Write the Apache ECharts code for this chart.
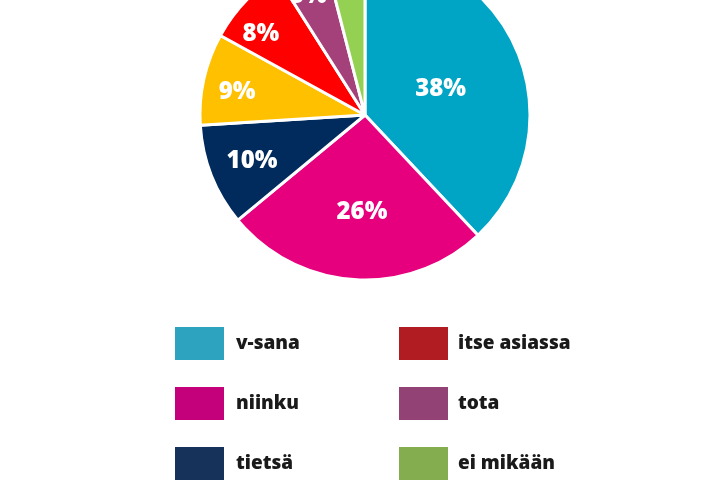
<!DOCTYPE html>
<html><head><meta charset="utf-8">
<script src="https://cdn.jsdelivr.net/npm/echarts@6/dist/echarts.min.js"></script>
<style>html,body{margin:0;padding:0;background:#fff}#c{width:720px;height:480px}</style>
</head><body><div id="c"></div>
<script>
const categories = ['v-sana', 'niinku', 'tietsä', 'siis', 'itse asiassa', 'tota', 'ei mikään'];
const values = [38, 26, 10, 9, 8, 5, 4];
const pieColors = ['#00A4C4', '#E6007E', '#002B5C', '#FFC000', '#FF0000', '#A4417A', '#94D152'];
const legendColors = ['#2EA3C0', '#C4007A', '#17325A', '#E0A800', '#B01C22', '#924274', '#84AD50'];
// label placement style: radius (px) and angular shift (deg) per slice
const labelRadiusPx = [80, 97, 122, 130, 132, 132, 133];
const labelAngleShift = [2.7, -1.8, -0.6, -2.4, -5.3, -2, 0];

const CX = 365, CY = 115, R = 165;
const chart = echarts.init(document.getElementById('c'));
const legendText = {color: '#1a1a1a', fontSize: 19, fontWeight: 800, fontFamily: 'Open Sans', padding: [0, 0, 0, 7]};
chart.setOption({
  animation: false,
  color: pieColors,
  legend: [
    {orient: 'vertical', left: 175, top: 327, height: 400, padding: 0, itemWidth: 49, itemHeight: 33, itemGap: 27, icon: 'rect',
     selectedMode: false, textStyle: legendText,
     data: categories.slice(0, 4).map((n, i) => ({name: n, itemStyle: {color: legendColors[i], borderWidth: 0}}))},
    {orient: 'vertical', left: 399, top: 327, height: 400, padding: 0, itemWidth: 49, itemHeight: 33, itemGap: 27, icon: 'rect',
     selectedMode: false, textStyle: Object.assign({}, legendText, {padding: [0, 0, 0, 5]}),
     data: categories.slice(4).map((n, i) => ({name: n, itemStyle: {color: legendColors[i + 4], borderWidth: 0}}))}
  ],
  series: [{
    type: 'pie',
    center: [CX, CY],
    radius: [0, R],
    startAngle: 90,
    clockwise: true,
    avoidLabelOverlap: false,
    itemStyle: {borderColor: '#fff', borderWidth: 3},
    label: {show: true, position: 'inside', formatter: '{c}%', color: '#fff', fontSize: 24,
            fontWeight: 800, fontFamily: 'Open Sans'},
    labelLine: {show: false},
    labelLayout: function (p) {
      const r = p.labelRect;
      const lx = r.x + r.width / 2, ly = r.y + r.height / 2;
      const a = Math.atan2(lx - CX, CY - ly) + labelAngleShift[p.dataIndex] * Math.PI / 180;
      const rr = labelRadiusPx[p.dataIndex];
      return {x: CX + Math.sin(a) * rr, y: CY - Math.cos(a) * rr, align: 'center', verticalAlign: 'middle'};
    },
    emphasis: {disabled: true},
    data: categories.map((n, i) => ({name: n, value: values[i]}))
  }]
});
</script></body></html>
